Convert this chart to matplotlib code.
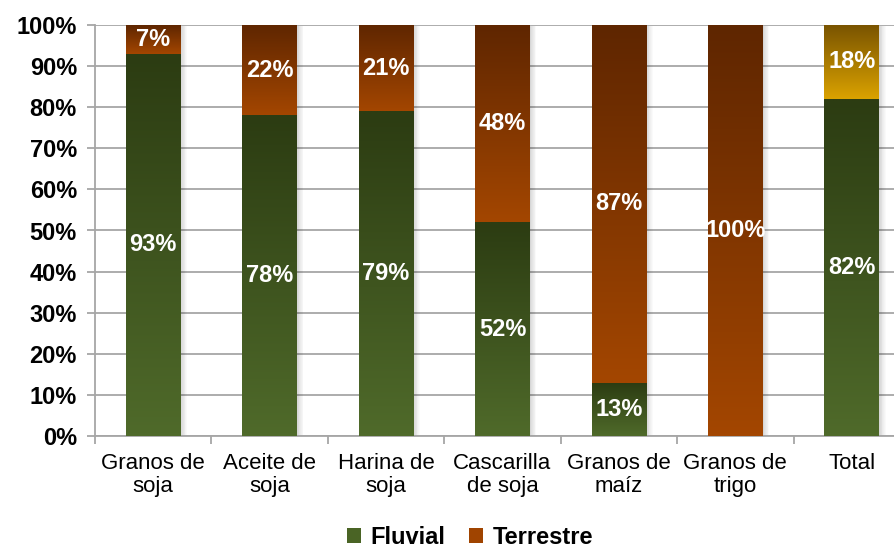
import matplotlib
matplotlib.use("Agg")
import matplotlib.pyplot as plt
import numpy as np
from matplotlib.patches import Rectangle, Patch
from matplotlib.colors import to_rgb

plt.rcParams['font.family'] = ['Liberation Sans', 'DejaVu Sans']

categories = ["Granos de\nsoja", "Aceite de\nsoja", "Harina de\nsoja", "Cascarilla\nde soja",
              "Granos de\nmaíz", "Granos de\ntrigo", "Total"]
fluvial = [93, 78, 79, 52, 13, 0, 82]
terrestre = [7, 22, 21, 48, 87, 100, 18]
yticks = [0, 10, 20, 30, 40, 50, 60, 70, 80, 90, 100]

green_top, green_bot = "#2c3c12", "#4f6a2a"
orange_top, orange_bot = "#5f2600", "#a34600"
gold_top, gold_bot = "#7a5400", "#daa200"

fig = plt.figure(figsize=(8.94, 5.48), dpi=100)
ax = fig.add_axes([95/894, 112/548, 815/894, 411/548])

width = 0.47
x = np.arange(len(categories))

def grad(ax, x0, x1, y0, y1, ctop, cbot, z=3):
    n = 64
    t = np.linspace(0, 1, n)[:, None]
    a = np.array(to_rgb(ctop)); b = np.array(to_rgb(cbot))
    img = (a * (1 - t) + b * t)[:, None, :]
    ax.imshow(img, extent=(x0, x1, y0, y1), aspect='auto', origin='upper',
              interpolation='bilinear', zorder=z)

for i in range(len(categories)):
    xc = x[i]
    x0, x1 = xc - width / 2, xc + width / 2
    total = fluvial[i] + terrestre[i]
    # shadow
    nstrip = 8
    sw = 0.055
    for k in range(nstrip):
        ax.add_patch(Rectangle((x1 + k * sw / nstrip, 0), sw / nstrip, total - 0.3,
                               color='black', alpha=0.16 * (1 - k / nstrip), lw=0, zorder=2))
    f = fluvial[i]
    if f > 0:
        grad(ax, x0, x1, 0, f, green_top, green_bot)
        ax.text(xc, f / 2, f"{f}%", ha='center', va='center', color='white',
                fontsize=17, fontweight='bold', zorder=5)
    tv = terrestre[i]
    if tv > 0:
        if i == len(categories) - 1:
            grad(ax, x0, x1, f, f + tv, gold_top, gold_bot)
        else:
            grad(ax, x0, x1, f, f + tv, orange_top, orange_bot)
        ax.text(xc, f + tv / 2, f"{tv}%", ha='center', va='center', color='white',
                fontsize=17, fontweight='bold', zorder=5)

ax.set_xlim(-0.5, len(categories) - 0.5)
ax.set_ylim(0, 100)

ax.set_yticks(yticks)
ax.set_yticklabels([f"{v}%" for v in yticks], fontsize=17, fontweight='bold')
ax.yaxis.grid(True, color='#a6a6a6', linewidth=1.3, zorder=0)
ax.set_axisbelow(True)

ax.set_xticks(x)
ax.set_xticklabels(categories, fontsize=16, linespacing=1.15)
ax.tick_params(axis='x', length=0, pad=12)
ax.set_xticks(np.arange(-0.5, len(categories) + 0.5, 1), minor=True)
ax.tick_params(axis='x', which='minor', length=6, color='#a6a6a6', width=1.3)
ax.tick_params(axis='y', length=6, color='#a6a6a6', width=1.3, pad=7)

for s in ['top', 'right']:
    ax.spines[s].set_visible(False)
for s in ['left', 'bottom']:
    ax.spines[s].set_color('#a6a6a6')
    ax.spines[s].set_linewidth(1.3)

handles = [Patch(facecolor="#4a6425", edgecolor='none', label="Fluvial"),
           Patch(facecolor="#a04400", edgecolor='none', label="Terrestre")]
fig.legend(handles=handles, loc='center', bbox_to_anchor=(470/894, 1 - 537/548), ncol=2,
           frameon=False, prop={'size': 17, 'weight': 'bold'}, handlelength=0.6,
           handleheight=0.6, columnspacing=1.0, handletextpad=0.4)

fig.savefig("out.png", dpi=100)
